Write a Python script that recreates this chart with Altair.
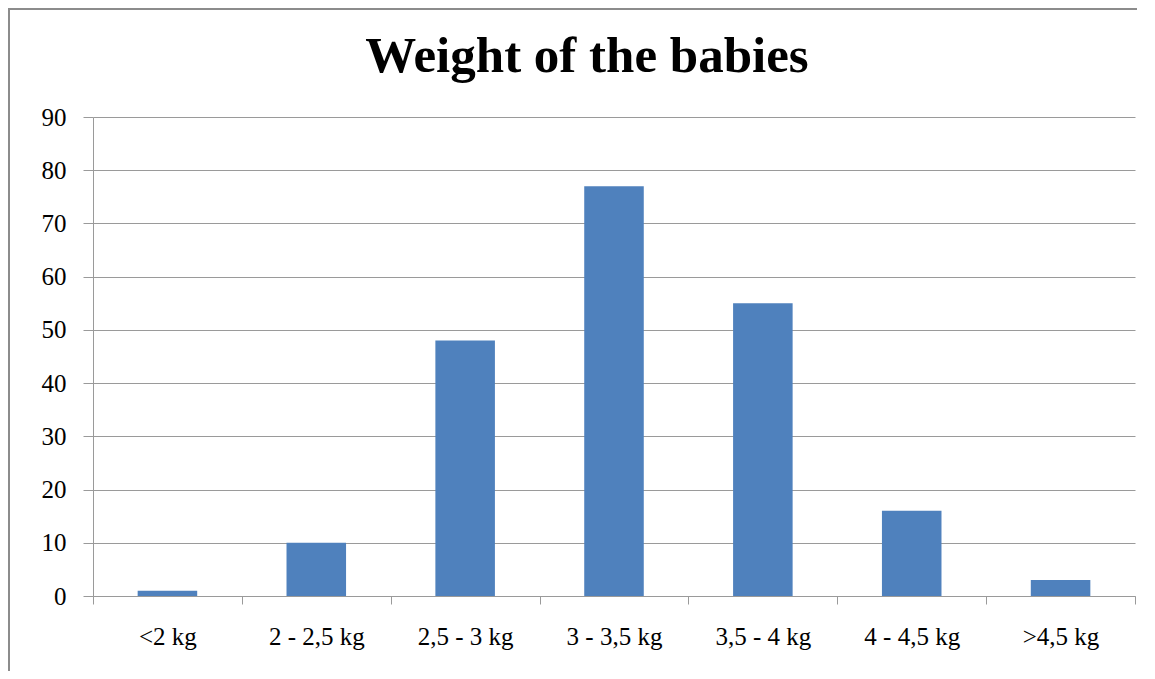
import altair as alt
import pandas as pd

categories = ["<2 kg", "2 - 2,5 kg", "2,5 - 3 kg", "3 - 3,5 kg", "3,5 - 4 kg", "4 - 4,5 kg", ">4,5 kg"]
counts = [1, 10, 48, 77, 55, 16, 3]
y_ticks = [0, 10, 20, 30, 40, 50, 60, 70, 80, 90]
title_text = "Weight of the babies"

df = pd.DataFrame({"category": categories, "count": counts})
one = pd.DataFrame({"a": [0]})
title_df = pd.DataFrame({"t": [title_text]})

FONT = "Liberation Serif"
GRID = "#9a9a9a"
BORDER = "#8c8c8c"

bars = alt.Chart(df).mark_bar(color="#4F81BD", width=alt.RelativeBandSize(0.4)).encode(
    x=alt.X(
        "category:N",
        sort=categories,
        scale=alt.Scale(paddingInner=0, paddingOuter=0),
        axis=alt.Axis(
            title=None,
            labelAngle=0,
            tickBand="extent",
            tickSize=8,
            tickColor=GRID,
            domainColor=GRID,
            grid=False,
            labelFont=FONT,
            labelFontSize=25,
            labelColor="black",
            labelPadding=20,
        ),
    ),
    y=alt.Y(
        "count:Q",
        scale=alt.Scale(domain=[0, 90], nice=False),
        axis=alt.Axis(
            title=None,
            values=y_ticks,
            grid=True,
            gridColor=GRID,
            tickColor=GRID,
            domainColor=GRID,
            tickSize=10,
            labelFont=FONT,
            labelFontSize=25,
            labelColor="black",
            labelPadding=17,
        ),
    ),
)

border = alt.Chart(one).mark_rect(
    fill="transparent", stroke=BORDER, strokeWidth=2, clip=False
).encode(
    x=alt.value(-84), x2=alt.value(1100), y=alt.value(-108), y2=alt.value(700)
)

title = alt.Chart(title_df).mark_text(
    font=FONT, fontSize=51, fontWeight="bold", color="black",
    align="center", baseline="alphabetic", clip=False,
).encode(x=alt.value(494), y=alt.value(-45), text="t:N")

chart = (
    alt.layer(border, bars, title)
    .properties(
        width=1042,
        height=479,
        padding={"left": 85, "top": 109, "right": 2, "bottom": 75},
        autosize="none",
    )
    .configure_view(stroke=None)
)

chart.save("out.html", embed_options={"renderer": "svg", "actions": False})
